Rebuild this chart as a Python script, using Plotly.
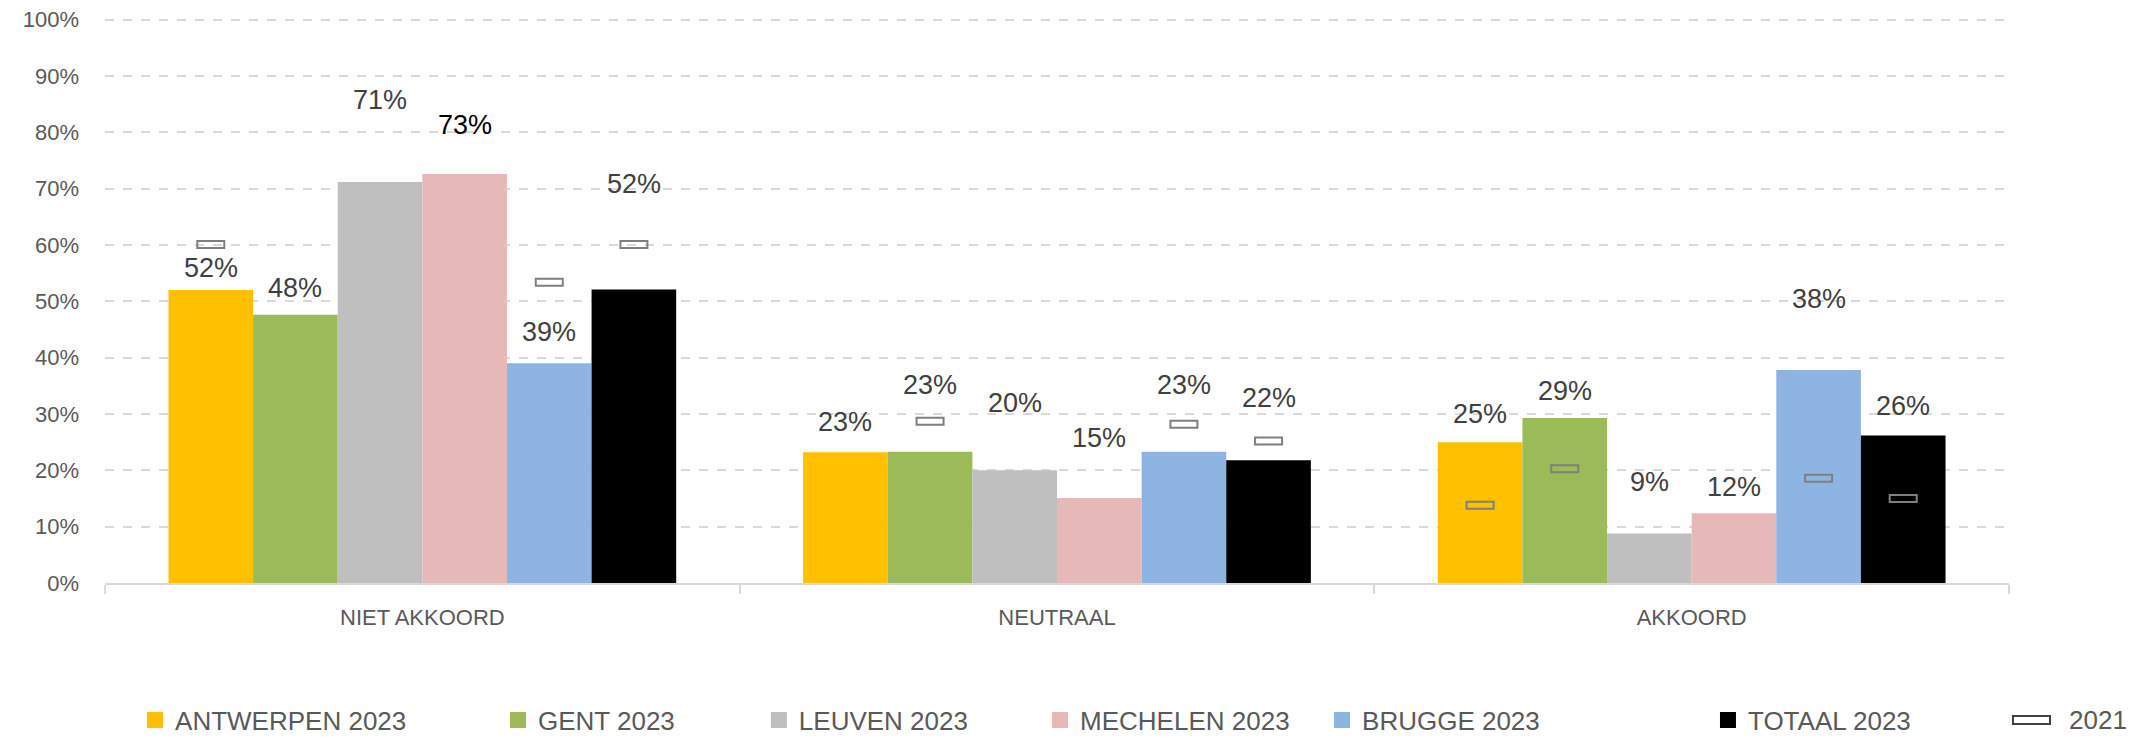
import plotly.graph_objects as go

# ---------------- data ----------------
categories = ["NIET AKKOORD", "NEUTRAAL", "AKKOORD"]
series_names = ["ANTWERPEN 2023", "GENT 2023", "LEUVEN 2023", "MECHELEN 2023", "BRUGGE 2023", "TOTAAL 2023"]
previous_name = "2021"

antwerpen_2023 = [0.520, 0.232, 0.250]
gent_2023 = [0.476, 0.233, 0.293]
leuven_2023 = [0.712, 0.200, 0.088]
mechelen_2023 = [0.726, 0.151, 0.124]
brugge_2023 = [0.390, 0.233, 0.378]
totaal_2023 = [0.521, 0.218, 0.262]

antwerpen_2021 = [0.601, None, 0.138]
gent_2021 = [None, 0.287, 0.203]
leuven_2021 = [None, None, None]
mechelen_2021 = [None, None, None]
brugge_2021 = [0.534, 0.282, 0.186]
totaal_2021 = [0.601, 0.252, 0.150]

values_2023 = [antwerpen_2023, gent_2023, leuven_2023, mechelen_2023, brugge_2023, totaal_2023]
values_2021 = [antwerpen_2021, gent_2021, leuven_2021, mechelen_2021, brugge_2021, totaal_2021]

# ---------------- style ----------------
colors = ["#FFC000", "#9BBB59", "#BFBFBF", "#E6B9B8", "#8EB4E3", "#000000"]
# label offsets above bar top (pixels), per series / category
label_shift = [
    [22, 30, 28],
    [27, 67, 27],
    [82, 67, 51],
    [49, 60, 26],
    [31, 67, 71],
    [106, 62, 29],
]
label_colors = [
    ["#404040"] * 3,
    ["#404040"] * 3,
    ["#404040"] * 3,
    ["#000000", "#404040", "#404040"],
    ["#404040"] * 3,
    ["#404040"] * 3,
]
FONT = "Liberation Sans, Arial, sans-serif"
TXT = "#595959"
legend_x = [0.0158, 0.2064, 0.3434, 0.4911, 0.6392, 0.8419]
legend_y = -0.2425
marker_gray = "#7F7F7F"

bargap = 0.2
n = len(series_names)
group_w = 1 - bargap
bar_w = group_w / n
xs = list(range(len(categories)))

fig = go.Figure()
annotations = []
shapes = []
for j, name in enumerate(series_names):
    lg = "legend" if j == 0 else f"legend{j+1}"
    fig.add_trace(go.Bar(
        x=xs, y=values_2023[j], name=name, marker_color=colors[j],
        marker_line_width=0, showlegend=False,
    ))
    # legend proxy (bigger square symbol)
    fig.add_trace(go.Scatter(
        x=[None], y=[None], mode="markers", name=name, legend=lg,
        marker=dict(symbol="square", size=18, color=colors[j], line_width=0),
        showlegend=True,
    ))
    for i in xs:
        xc = i - group_w / 2 + bar_w * (j + 0.5)
        v = values_2023[j][i]
        annotations.append(dict(
            x=xc, y=v, xref="x", yref="y", text=f"{round(v*100)}%",
            showarrow=False, yanchor="middle", yshift=label_shift[j][i],
            font=dict(family=FONT, size=27, color=label_colors[j][i]),
        ))
        p = values_2021[j][i]
        if p is not None:
            shapes.append(dict(
                type="rect", xref="x", yref="y",
                xsizemode="pixel", xanchor=xc, x0=-13.5, x1=13.5,
                ysizemode="pixel", yanchor=p, y0=-3.5, y1=3.5,
                line=dict(color=marker_gray, width=2),
                fillcolor="rgba(0,0,0,0)", layer="above",
            ))

# legend entry for the 2021 markers (icon + text)
shapes.append(dict(
    type="rect", xref="paper", yref="paper",
    xsizemode="pixel", xanchor=1.0, x0=4, x1=41,
    ysizemode="pixel", yanchor=legend_y, y0=-4, y1=4,
    line=dict(color="#404040", width=2), fillcolor="white",
))
annotations.append(dict(
    x=1.0, y=legend_y, xref="paper", yref="paper", xanchor="left", yanchor="middle",
    xshift=58, text=previous_name, showarrow=False,
    font=dict(family=FONT, size=26, color=TXT),
))

layout_legends = {}
for j in range(n):
    key = "legend" if j == 0 else f"legend{j+1}"
    layout_legends[key] = dict(
        x=legend_x[j], xanchor="left", y=legend_y, yanchor="middle",
        orientation="h", bgcolor="rgba(0,0,0,0)", itemsizing="trace",
        font=dict(family=FONT, size=26, color=TXT),
    )

fig.update_layout(
    width=2156, height=737, showlegend=True,
    paper_bgcolor="white", plot_bgcolor="white",
    margin=dict(l=105, r=147, t=18, b=154, autoexpand=False),
    barmode="group", bargap=bargap, bargroupgap=0,
    font=dict(family=FONT, color=TXT),
    annotations=annotations, shapes=shapes,
    xaxis=dict(
        range=[-0.5, 2.5], tickmode="array", tickvals=xs, ticktext=categories,
        ticks="", showline=True, linecolor="#D9D9D9", linewidth=2,
        showgrid=False, zeroline=False, ticklabelstandoff=14, automargin=False,
        tickfont=dict(family=FONT, size=22, color=TXT),
        minor=dict(tickmode="array", tickvals=[-0.5, 0.5, 1.5, 2.5],
                   ticks="outside", ticklen=9, tickwidth=2, tickcolor="#D9D9D9",
                   showgrid=False),
    ),
    yaxis=dict(
        range=[0, 1.003], tickformat=".0%", tickmode="array",
        tickvals=[k / 10 for k in range(11)],
        showgrid=True, gridcolor="#D9D9D9", griddash="dash", gridwidth=1.5,
        zeroline=False, showline=False, ticks="", ticklabelstandoff=25, automargin=False,
        tickfont=dict(family=FONT, size=22, color=TXT),
    ),
    **layout_legends,
)

fig.write_html(
    "out.html",
    config={"displayModeBar": False},
    post_script="document.body.style.margin='0';document.body.style.overflow='hidden';",
)
